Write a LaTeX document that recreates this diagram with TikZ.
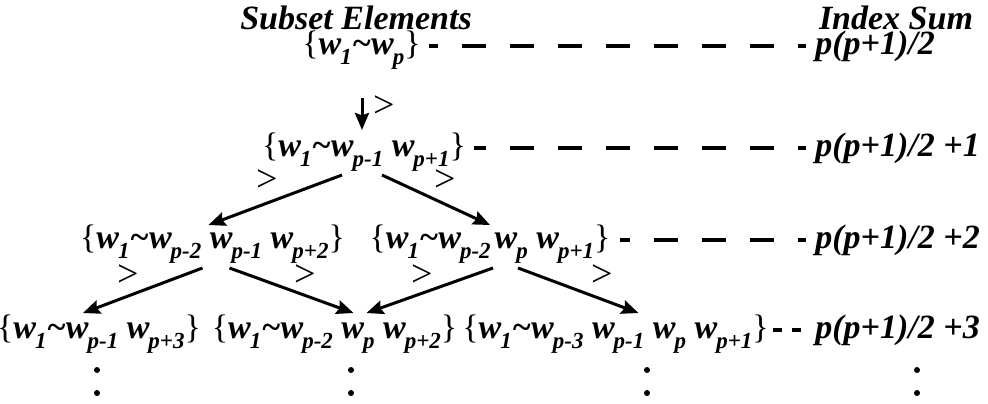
\documentclass[tikz,border=0pt]{standalone}
\usepackage{fontspec}
\setmainfont{Liberation Serif}
\usetikzlibrary{arrows.meta,calc}
\newcommand{\wsub}[1]{\textbf{\textit{w}}\kern-0.5pt\raisebox{-5pt}{\fontsize{11.5}{11.5}\selectfont\bfseries\itshape #1}}
\newcommand{\mylb}{{\upshape\mdseries\{}}
\newcommand{\myrb}{{\upshape\mdseries\}}}
\newcommand{\tld}{\textasciitilde}
\begin{document}
\begin{tikzpicture}[x=0.5pt,y=-0.5pt,
  txt/.style={font=\fontsize{17}{20}\selectfont\bfseries\itshape, inner sep=0pt, anchor=base},
  lbl/.style={font=\fontsize{17}{20}\selectfont\bfseries\itshape, inner sep=0pt, anchor=base west},
  gt/.style={font=\fontsize{19}{20}\selectfont, inner sep=0pt},
  arr/.style={line width=1.5pt, -{Stealth[length=8.5pt,width=7pt,inset=1.2pt]}},
  dashline/.style={line width=2pt, dash pattern=on 12pt off 12pt, dash phase=8pt},
  shortdash/.style={line width=2pt, dash pattern=on 4.5pt off 5pt}]
\useasboundingbox (0,0) rectangle (988,403);
% titles
\node[txt] (t1) at (356,29) {Subset Elements};
\node[txt] (t2) at (896,29) {Index Sum};
% rows
\node[txt] (r1) at (361.5,54) {\mylb\wsub{1}\tld\wsub{p}\myrb};
\node[txt] (r2) at (364,156) {\mylb\wsub{1}\tld\wsub{p-1} \wsub{p+1}\myrb};
\node[txt] (r3a) at (212.5,248) {\mylb\wsub{1}\tld\wsub{p-2} \wsub{p-1} \wsub{p+2}\myrb};
\node[txt] (r3b) at (490,248) {\mylb\wsub{1}\tld\wsub{p-2}\kern2pt\wsub{p} \wsub{p+1}\myrb};
\node[txt] (r4a) at (99,338) {\mylb\wsub{1}\tld\wsub{p-1} \wsub{p+3}\myrb};
\node[txt] (r4b) at (334.5,338) {\mylb\wsub{1}\tld\wsub{p-2} \wsub{p} \wsub{p+2}\myrb};
\node[txt] (r4c) at (615.5,338) {\mylb\wsub{1}\tld\wsub{p-3} \wsub{p-1} \wsub{p} \wsub{p+1}\myrb};
% index sums
\node[lbl] (s1) at (815,54) {p(p+1)/2};
\node[lbl] (s2) at (815,156) {p(p+1)/2 +1};
\node[lbl] (s3) at (815,248) {p(p+1)/2 +2};
\node[lbl] (s4) at (815,338) {p(p+1)/2 +3};
% dashed leaders
\draw[dashline] ($(s1.base west)+(-9,-8)$) -- ($(r1.base east)+(8,-8)$);
\draw[dashline] ($(s2.base west)+(-9,-8)$) -- ($(r2.base east)+(8,-8)$);
\draw[dashline] ($(s3.base west)+(-9,-8)$) -- ($(s3.base west)+(-195,-8)$);
\draw[shortdash] ($(s4.base west)+(-14,-8)$) -- ($(s4.base west)+(-42,-8)$);
% arrows
\draw[arr] ($(r1.base)+(0.5,44)$) -- ($(r2.base)+(-2,-26)$);
\draw[arr] ($(r2.base)+(-22,19)$) -- ($(r3a.base)+(-4,-23)$);
\draw[arr] ($(r2.base)+(18,19)$) -- ($(r3b.base)+(0,-23)$);
\draw[arr] ($(r3a.base)+(-10,20)$) -- ($(r4a.base)+(-16,-25)$);
\draw[arr] ($(r3a.base)+(17,20)$) -- ($(r4b.base)+(19,-25)$);
\draw[arr] ($(r3b.base)+(3,20)$) -- ($(r4b.base)+(32,-25)$);
\draw[arr] ($(r3b.base)+(28,20)$) -- ($(r4c.base)+(23,-25)$);
% > labels
\node[gt] (g0) at (384,107) {>};
\node[gt] (g1) at (267,181) {>};
\node[gt] (g2) at (445,181) {>};
\node[gt] (g3) at (128,276) {>};
\node[gt] (g4) at (305,276) {>};
\node[gt] (g5) at (422,276) {>};
\node[gt] (g6) at (602,276) {>};
% vertical dots
\foreach \x in {97,351,647,917}{
  \fill (\x,370) circle (3);
  \fill (\x,393) circle (3);
}
\end{tikzpicture}
\end{document}
